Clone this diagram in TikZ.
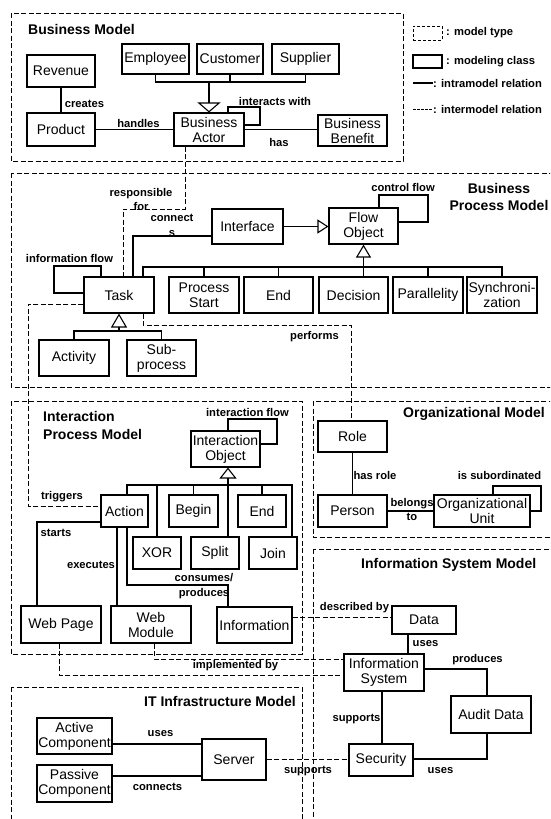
\documentclass[tikz,border=0pt]{standalone}
\usepackage{fontspec}
\setmainfont{Liberation Sans}
\usetikzlibrary{arrows.meta}
\begin{document}
\begin{tikzpicture}[x=1pt,y=-1pt,
 cls/.style={draw, line width=1.1pt, inner sep=0pt, align=center, font=\fontsize{14}{15}\selectfont},
 lbl/.style={inner sep=0pt, align=center, font=\fontsize{11.2}{14.5}\selectfont\bfseries},
 ttl/.style={inner sep=0pt, font=\fontsize{14}{17.5}\selectfont\bfseries},
 modelbox/.style={draw, line width=0.9pt, dash pattern=on 5pt off 2.5pt},
 rel/.style={draw, line width=1.1pt},
 inter/.style={draw, line width=0.9pt, dash pattern=on 5pt off 2.5pt},
 gen/.style={rel, -{Triangle[open, length=12pt, width=16pt]}},
]
\fill[white] (0,0) rectangle (550,819);
\useasboundingbox (0,0) rectangle (550,819);
\clip (0,0) rectangle (550,819);

% model boxes
\draw[modelbox] (11,13) rectangle (403,161);
\draw[modelbox] (11,173) rectangle (556,387);
\draw[modelbox] (11,401) rectangle (302,654);
\draw[modelbox] (313,401) rectangle (556,537);
\draw[modelbox] (313,549) rectangle (556,825);
\draw[modelbox] (11,687) rectangle (302,825);

% titles
\node[ttl, anchor=west] (tbm) at (28,29) {Business Model};
\node[ttl, align=center] (tbpm) at (499,197) {Business\\Process Model};
\node[ttl, align=left, anchor=west] (tipm) at (43,425.5) {Interaction\\Process Model};
\node[ttl, anchor=west] (tom) at (403,414) {Organizational Model};
\node[ttl, anchor=west] (tism) at (361,565) {Information System Model};
\node[ttl, anchor=west] (titm) at (144,701) {IT Infrastructure Model};

% legend
\node[draw, line width=0.8pt, dash pattern=on 3pt off 2pt, minimum width=29, minimum height=14, inner sep=0pt] (lg1) at (427.5,33) {};
\node[lbl, anchor=west] (lg1t) at (446,33) {: model type};
\node[draw, line width=1.1pt, minimum width=29, minimum height=13, inner sep=0pt] (lg2) at (427.5,61.5) {};
\node[lbl, anchor=west] (lg2t) at (446,61.5) {: modeling class};
\coordinate (lg3a) at (413,83);
\node[lbl, anchor=west] (lg3) at (433,83) {: intramodel relation};
\draw[rel] (lg3a) -- (lg3.west);
\coordinate (lg4a) at (413,109);
\node[lbl, anchor=west] (lg4) at (433,109) {: intermodel relation};
\draw[inter, dash pattern=on 2.5pt off 1.5pt] (lg4a) -- (lg4.west);

% ---------- Business Model ----------
\node[cls, minimum width=68, minimum height=32] (rev) at (61,71) {Revenue};
\node[cls, minimum width=68, minimum height=33] (prod) at (61,129.5) {Product};
\node[cls, minimum width=67, minimum height=30] (emp) at (155.5,59) {Employee};
\node[cls, minimum width=66, minimum height=30] (cus) at (230,59) {Customer};
\node[cls, minimum width=67, minimum height=30] (sup) at (305.5,59) {Supplier};
\node[cls, minimum width=70, minimum height=33] (ba) at (209,129.5) {Business\\Actor};
\node[cls, minimum width=69, minimum height=31] (bb) at (352.5,130.5) {Business\\Benefit};

\draw[rel] (rev) -- (prod);
\node[lbl] at (84.5,104) {creates};
\draw[rel] (prod) -- (ba);
\node[lbl] at (138.5,123) {handles};
\draw[rel] (ba.east) -- (ba.east -| bb.west);
\node[lbl] at (279,142) {has};
\coordinate (bmbar) at (209,82);
\draw[rel] (emp.south) |- (bmbar) -| (sup.south);
\draw[rel] (cus.south) -- (cus.south |- bmbar);
\draw[gen, -{Triangle[open,length=10pt,width=23pt]}] (bmbar) -- (ba.north);
\coordinate (bal1) at (228,107);
\coordinate (bal2) at (260,125);
\draw[rel] (ba.north -| bal1) -- (bal1) -| (bal2) -- (bal2 -| ba.east);
\node[lbl] at (275,101) {interacts with};

% ---------- Business Process Model ----------
\node[cls, minimum width=70, minimum height=36] (task) at (119,295) {Task};
\node[cls, minimum width=71, minimum height=35] (iface) at (247.5,226.5) {Interface};
\node[cls, minimum width=69, minimum height=36] (fo) at (363.5,226) {Flow\\Object};
\node[cls, minimum width=70, minimum height=36] (ps) at (204,295) {Process\\Start};
\node[cls, minimum width=69, minimum height=36] (bend) at (278.5,295) {End};
\node[cls, minimum width=69, minimum height=36] (dec) at (353.5,295) {Decision};
\node[cls, minimum width=70, minimum height=36] (par) at (428,295) {Parallelity};
\node[cls, minimum width=70, minimum height=36] (syn) at (502,295) {Synchroni-\\zation};
\node[cls, minimum width=70, minimum height=36] (act) at (74,358) {Activity};
\node[cls, minimum width=69, minimum height=36] (sub) at (161.5,358) {Sub-\\process};

\coordinate (rf1) at (185,209);
\coordinate (rf2) at (123,209);
\draw[inter] (ba.south -| rf1) -- (rf1) -- (rf2) -- (task.north -| rf2);
\node[lbl] at (141,199.5) {responsible\\for};

\coordinate (cn) at (133,236);
\draw[rel] (iface.west |- cn) -| (task.north -| cn);
\node[lbl] at (172,225.5) {connect\\s};

\draw[gen, -{Triangle[open,length=11pt,width=14pt]}] (iface.east) -- (fo.west |- iface.east);

\coordinate (tl1) at (54,293);
\coordinate (tl2) at (101,266);
\draw[rel] (task.west |- tl1) -- (tl1) |- (tl2) -- (task.north -| tl2);
\node[lbl] at (69.5,258) {information flow};

\coordinate (fl1) at (379,195);
\coordinate (fl2) at (428,222);
\draw[rel] (fo.north -| fl1) -- (fl1) -| (fl2) -- (fl2 -| fo.east);
\node[lbl] at (403,187) {control flow};

\coordinate (fobar) at (363.5,267);
\coordinate (fobl) at (143,267);
\coordinate (fobr) at (502,267);
\draw[rel] (task.north -| fobl) |- (fobr) -- (syn.north);
\draw[rel] (ps.north) -- (ps.north |- fobar);
\draw[rel] (bend.north) -- (bend.north |- fobar);
\draw[rel] (par.north) -- (par.north |- fobar);
\draw[gen, -{Triangle[open,length=13pt,width=15pt]}] (dec.north -| fobar) -- (fo.south -| fobar);

\coordinate (tbar) at (119,331);
\draw[rel] (act.north) |- (tbar) -| (sub.north);
\draw[gen, -{Triangle[open,length=14pt,width=16pt]}] (tbar) -- (task.south);

% ---------- Organizational Model ----------
\node[cls, minimum width=69, minimum height=31] (role) at (352.5,436.5) {Role};
\node[cls, minimum width=69, minimum height=32] (person) at (352.5,511) {Person};
\node[cls, minimum width=96, minimum height=32] (ou) at (482,511) {Organizational\\Unit};
\draw[rel] (role) -- (person);
\node[lbl] at (375,475) {has role};
\draw[rel] (person) -- (ou);
\node[lbl] at (412,509.5) {belongs\\to};
\coordinate (ol1) at (493,486);
\coordinate (ol2) at (541,511);
\draw[rel] (ou.north -| ol1) -- (ol1) -| (ol2) -- (ol2 -| ou.east);
\node[lbl] at (499.5,475) {is subordinated};

\coordinate (pf1) at (143,325);
\coordinate (pf2) at (351,325);
\draw[inter] (task.south -| pf1) -- (pf1) -- (pf2) -- (role.north -| pf2);
\node[lbl] at (314.5,337) {performs};

% ---------- Interaction Process Model ----------
\node[cls, minimum width=69, minimum height=36] (io) at (225.5,449) {Interaction\\Object};
\node[cls, minimum width=47, minimum height=32] (action) at (124.5,511) {Action};
\node[cls, minimum width=49, minimum height=32] (begin) at (193.5,511) {Begin};
\node[cls, minimum width=48, minimum height=32] (iend) at (262,511) {End};
\node[cls, minimum width=48, minimum height=32] (xor) at (157,553) {XOR};
\node[cls, minimum width=48, minimum height=32] (split) at (215,553) {Split};
\node[cls, minimum width=48, minimum height=32] (join) at (273,553) {Join};
\node[cls, minimum width=80, minimum height=37] (webpage) at (61,624.5) {Web Page};
\node[cls, minimum width=80, minimum height=37] (webmod) at (151,624.5) {Web\\Module};
\node[cls, minimum width=75, minimum height=36] (info) at (254.5,625) {Information};

\coordinate (tg1) at (28,304);
\coordinate (tg2) at (28,506);
\draw[inter] (task.west |- tg1) -- (tg1) -- (tg2) -- (action.west |- tg2);
\node[lbl] at (62,497) {triggers};

\coordinate (il1) at (228,419);
\coordinate (il2) at (277,444);
\draw[rel] (io.north -| il1) -- (il1) -| (il2) -- (il2 -| io.east);
\node[lbl] at (247.5,412) {interaction flow};

\coordinate (iob) at (228,485);
\coordinate (iobl) at (127,485);
\coordinate (iobr) at (292,485);
\draw[rel] (action.north -| iobl) |- (iobr) -- (join.north -| iobr);
\draw[rel] (xor.north) -- (xor.north |- iob);
\draw[rel] (begin.north) -- (begin.north |- iob);
\draw[rel] (iend.north) -- (iend.north |- iob);
\draw[gen, -{Triangle[open,length=11pt,width=17pt]}] (split.north -| iob) -- (io.south -| iob);

\coordinate (st) at (37,522);
\draw[rel] (action.west |- st) -| (webpage.north -| st);
\node[lbl] at (56,533) {starts};
\coordinate (ex) at (117,560);
\draw[rel] (action.south -| ex) -- (webmod.north -| ex);
\node[lbl] at (91,565) {executes};
\coordinate (cp1) at (127,585);
\coordinate (cp2) at (228,585);
\draw[rel] (action.south -| cp1) -- (cp1) -- (cp2) -- (info.north -| cp2);
\node[lbl] at (204,586) {consumes/\\produces};

% ---------- Information System Model ----------
\node[cls, minimum width=64, minimum height=28] (data) at (424,620) {Data};
\node[cls, minimum width=80, minimum height=37] (is) at (384,672.5) {Information\\System};
\node[cls, minimum width=80, minimum height=37] (audit) at (491,714.5) {Audit Data};
\node[cls, minimum width=64, minimum height=32] (sec) at (381,760) {Security};

\coordinate (db) at (300,617);
\draw[inter] (info.east |- db) -- (data.west |- db);
\node[lbl] at (354.5,608) {described by};
\coordinate (du) at (408,640);
\draw[rel] (data.south -| du) -- (is.north -| du);
\node[lbl] at (425.5,644) {uses};
\coordinate (im1) at (59,675);
\coordinate (im2) at (154,659);
\draw[inter] (webpage.south -| im1) |- (is.west |- im1);
\draw[inter] (webmod.south -| im2) |- (is.west |- im2);
\node[lbl] at (235.5,666) {implemented by};
\coordinate (pr) at (487,669);
\draw[rel] (is.east |- pr) -| (audit.north -| pr);
\node[lbl] at (477.5,660) {produces};
\coordinate (sp) at (382,720);
\draw[rel] (is.south -| sp) -- (sec.north -| sp);
\node[lbl] at (356.5,719) {supports};
\coordinate (su) at (487,759);
\draw[rel] (sec.east |- su) -| (audit.south -| su);
\node[lbl] at (440.5,771) {uses};

% ---------- IT Infrastructure Model ----------
\node[cls, minimum width=75, minimum height=36] (activec) at (74.5,736) {Active\\Component};
\node[cls, minimum width=75, minimum height=37] (passivec) at (74.5,783.5) {Passive\\Component};
\node[cls, minimum width=64, minimum height=41] (server) at (234,759.5) {Server};
\coordinate (au) at (150,744);
\draw[rel] (activec.east |- au) -- (server.west |- au);
\node[lbl] at (160.5,734) {uses};
\coordinate (pc) at (150,776);
\draw[rel] (passivec.east |- pc) -- (server.west |- pc);
\node[lbl] at (157.5,787) {connects};
\coordinate (ss) at (300,759);
\draw[inter] (server.east |- ss) -- (sec.west |- ss);
\node[lbl] at (308,771) {supports};
\end{tikzpicture}
\end{document}
